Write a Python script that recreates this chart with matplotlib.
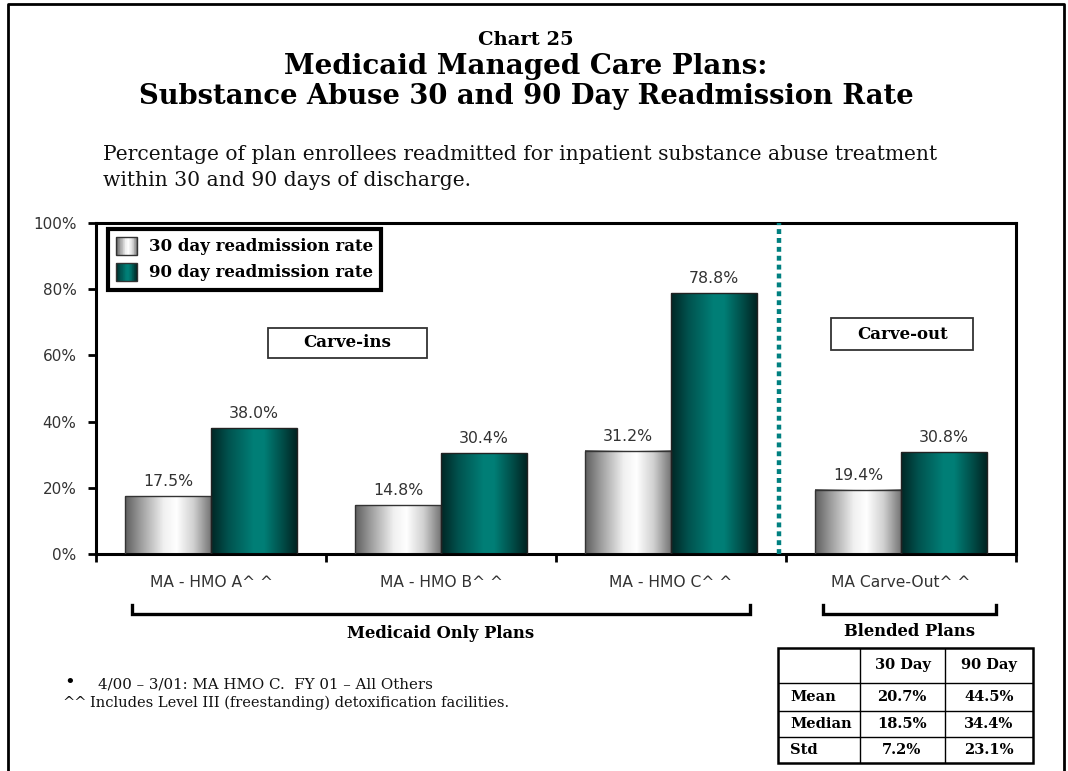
import numpy as np
import matplotlib
matplotlib.use('Agg')
import matplotlib.pyplot as plt
from matplotlib.colors import LinearSegmentedColormap
from matplotlib.lines import Line2D
from matplotlib.patches import Rectangle, Patch
from matplotlib.legend_handler import HandlerBase
import matplotlib.transforms as mtransforms

# ---------------- data ----------------
categories = ["MA - HMO A^ ^", "MA - HMO B^ ^", "MA - HMO C^ ^", "MA Carve-Out^ ^"]
rate_30 = [17.5, 14.8, 31.2, 19.4]
rate_90 = [38.0, 30.4, 78.8, 30.8]
series_names = ["30 day readmission rate", "90 day readmission rate"]
y_ticks = [0, 20, 40, 60, 80, 100]
y_tick_labels = ["0%", "20%", "40%", "60%", "80%", "100%"]
table_cols = ["", "30 Day", "90 Day"]
table_rows = ["Mean", "Median", "Std"]
table_30 = ["20.7%", "18.5%", "7.2%"]
table_90 = ["44.5%", "34.4%", "23.1%"]

SERIF = ["DejaVu Serif"]
SANS = ["DejaVu Sans"]
TXT = "#333333"

cmap30 = LinearSegmentedColormap.from_list(
    "g30", [(0, "#5e5e5e"), (0.18, "#9c9c9c"), (0.45, "#f0f0f0"), (0.6, "#ffffff"),
            (0.8, "#d0d0d0"), (1.0, "#767676")])
cmap90 = LinearSegmentedColormap.from_list(
    "g90", [(0, "#002624"), (0.2, "#00524e"), (0.5, "#007f77"), (0.62, "#007e76"),
            (0.82, "#00504b"), (1.0, "#002422")])

W, H = 1068, 771
fig = plt.figure(figsize=(W / 100, H / 100), dpi=100)

def fx(px):
    return px / W

def fy(py):
    return 1 - py / H

# outer frame
fig.add_artist(Line2D([fx(8), fx(8), fx(1064), fx(1064)], [0, fy(4), fy(4), 0],
                      transform=fig.transFigure, color="black", lw=2.0))

# titles
cx = fx(526)
fig.text(cx, fy(40), "Chart 25", ha="center", va="center", family=SERIF,
         weight="bold", fontsize=14)
fig.text(cx, fy(67), "Medicaid Managed Care Plans:", ha="center", va="center",
         family=SERIF, weight="bold", fontsize=20)
fig.text(cx, fy(97), "Substance Abuse 30 and 90 Day Readmission Rate", ha="center",
         va="center", family=SERIF, weight="bold", fontsize=19.7)
fig.text(fx(103), fy(155),
         "Percentage of plan enrollees readmitted for inpatient substance abuse treatment",
         ha="left", va="center", family=SERIF, fontsize=14.6, color="#111111")
fig.text(fx(103), fy(180), "within 30 and 90 days of discharge.", ha="left",
         va="center", family=SERIF, fontsize=14.6, color="#111111")

# ---------------- axes ----------------
ax = fig.add_axes([fx(96), fy(554), fx(920), 331 / H])
x = np.arange(len(categories))
bw = 0.372
b30 = ax.bar(x - bw / 2, rate_30, bw, facecolor="none", edgecolor="#333333",
             lw=1.0, zorder=3)
b90 = ax.bar(x + bw / 2, rate_90, bw, facecolor="none", edgecolor="#222222",
             lw=1.0, zorder=3)

grad = np.linspace(0, 1, 256).reshape(1, -1)
for bars, cm in ((b30, cmap30), (b90, cmap90)):
    for b in bars:
        x0, y0, w, h = b.get_x(), b.get_y(), b.get_width(), b.get_height()
        ax.imshow(grad, cmap=cm, extent=[x0, x0 + w, y0, y0 + h], aspect="auto",
                  zorder=2.5, interpolation="bilinear")

for bars, vals in ((b30, rate_30), (b90, rate_90)):
    for b, v in zip(bars, vals):
        ax.annotate(f"{v:.1f}%", (b.get_x() + b.get_width() / 2, v),
                    xytext=(0, 5), textcoords="offset points", ha="center",
                    va="bottom", family=SANS, fontsize=11.3, color=TXT)

ax.set_xlim(-0.5, len(categories) - 0.5)
ax.set_ylim(0, 100)

for s in ax.spines.values():
    s.set_linewidth(2.2)
    s.set_color("black")

ax.set_yticks(y_ticks)
ax.set_yticklabels(y_tick_labels, family=SANS, fontsize=11, color=TXT)
ax.tick_params(axis="y", direction="out", length=6, width=2, pad=8)

ax.set_xticks(x)
ax.set_xticklabels(categories, family=SANS, fontsize=11.2, color=TXT)
ax.tick_params(axis="x", which="major", length=0, pad=15)
ax.set_xticks(np.arange(-0.5, len(categories)), minor=True)
ax.tick_params(axis="x", which="minor", direction="out", length=6, width=2)

# vertical dotted separator
ax.axvline(2.47, color="#008080", lw=3.2, linestyle=(0, (1.1, 0.9)), zorder=4)

# annotation boxes
for (xc, yc, wdt, hgt, label) in ((0.593, 63.75, 0.69, 9.1, "Carve-ins"),
                                   (3.005, 66.45, 0.617, 9.7, "Carve-out")):
    ax.add_patch(Rectangle((xc - wdt / 2, yc - hgt / 2), wdt, hgt, facecolor="white",
                           edgecolor="#333333", lw=1.3, zorder=4))
    ax.text(xc, yc, label, ha="center", va="center", family=SERIF, weight="bold",
            fontsize=12, zorder=5)

# legend with gradient swatches
class GradHandler(HandlerBase):
    def __init__(self, cmap, n=30):
        super().__init__()
        self.cmap = cmap
        self.n = n

    def create_artists(self, legend, orig_handle, xdescent, ydescent, width, height,
                       fontsize, trans):
        arts = []
        for i in range(self.n):
            arts.append(Rectangle((-xdescent + width * i / self.n, -ydescent),
                                  width / self.n * 1.08, height,
                                  facecolor=self.cmap((i + 0.5) / self.n),
                                  edgecolor="none", transform=trans))
        arts.append(Rectangle((-xdescent, -ydescent), width, height, facecolor="none",
                              edgecolor="#333333", lw=1, transform=trans))
        return arts

h30 = Patch(label=series_names[0])
h90 = Patch(label=series_names[1])
leg = ax.legend(handles=[h30, h90], loc="upper left", bbox_to_anchor=(0.013, 0.983),
                borderaxespad=0, frameon=True, fancybox=False, framealpha=1,
                handlelength=1.25, handleheight=1.25, handletextpad=0.7,
                labelspacing=0.45, borderpad=0.5,
                prop={"family": SERIF, "weight": "bold", "size": 12},
                handler_map={h30: GradHandler(cmap30), h90: GradHandler(cmap90)})
leg.get_frame().set_edgecolor("black")
leg.get_frame().set_linewidth(3)
leg.set_zorder(6)

# brackets under the axis
btr = mtransforms.blended_transform_factory(ax.transData, fig.transFigure)
for (xa, xb, label, ty) in ((-0.345, 2.345, "Medicaid Only Plans", 634),
                            (2.66, 3.415, "Blended Plans", 631)):
    fig.add_artist(Line2D([xa, xa, xb, xb], [fy(605), fy(614), fy(614), fy(605)],
                          transform=btr, color="black", lw=2.4, solid_joinstyle="miter"))
    fig.text((xa + xb) / 2, fy(ty), label, transform=btr, ha="center", va="center",
             family=SERIF, weight="bold", fontsize=11.8)

# footnotes
fig.text(fx(64), fy(683), "\u2022", ha="left", va="center", family=SERIF, fontsize=13)
fig.text(fx(98), fy(684), "4/00 \u2013 3/01: MA HMO C.  FY 01 \u2013 All Others",
         ha="left", va="center", family=SERIF, fontsize=10.8, color="#111111")
fig.text(fx(62), fy(703), "^^", ha="left", va="center", family=SERIF, fontsize=10.5,
         color="#111111")
fig.text(fx(90), fy(703), "Includes Level III (freestanding) detoxification facilities.",
         ha="left", va="center", family=SERIF, fontsize=10.5, color="#111111")

# summary table
tab = fig.add_axes([fx(778), fy(763), fx(255), 115 / H])
tab.set_xlim(0, 255)
tab.set_ylim(115, 0)
tab.axis("off")
col_edges = [0, 82, 167, 255]
row_edges = [0, 35, 63, 89, 115]
tab.add_patch(Rectangle((0, 0), 255, 115, facecolor="none", edgecolor="black", lw=1.8,
                        clip_on=False))
for c in col_edges[1:-1]:
    tab.plot([c, c], [0, 115], color="black", lw=1.0)
for r in row_edges[1:-1]:
    tab.plot([0, 255], [r, r], color="black", lw=1.0)
for j, t in enumerate(table_cols):
    if t:
        tab.text((col_edges[j] + col_edges[j + 1]) / 2, 17, t, ha="center",
                 va="center", family=SERIF, weight="bold", fontsize=10.5)
row_centers = [49, 76, 102]
for i, name in enumerate(table_rows):
    tab.text(12, row_centers[i], name, ha="left", va="center", family=SERIF,
             weight="bold", fontsize=10.5)
    tab.text(124, row_centers[i], table_30[i], ha="center", va="center", family=SERIF,
             weight="bold", fontsize=10.5)
    tab.text(211, row_centers[i], table_90[i], ha="center", va="center", family=SERIF,
             weight="bold", fontsize=10.5)

fig.savefig("out.png", dpi=100)
